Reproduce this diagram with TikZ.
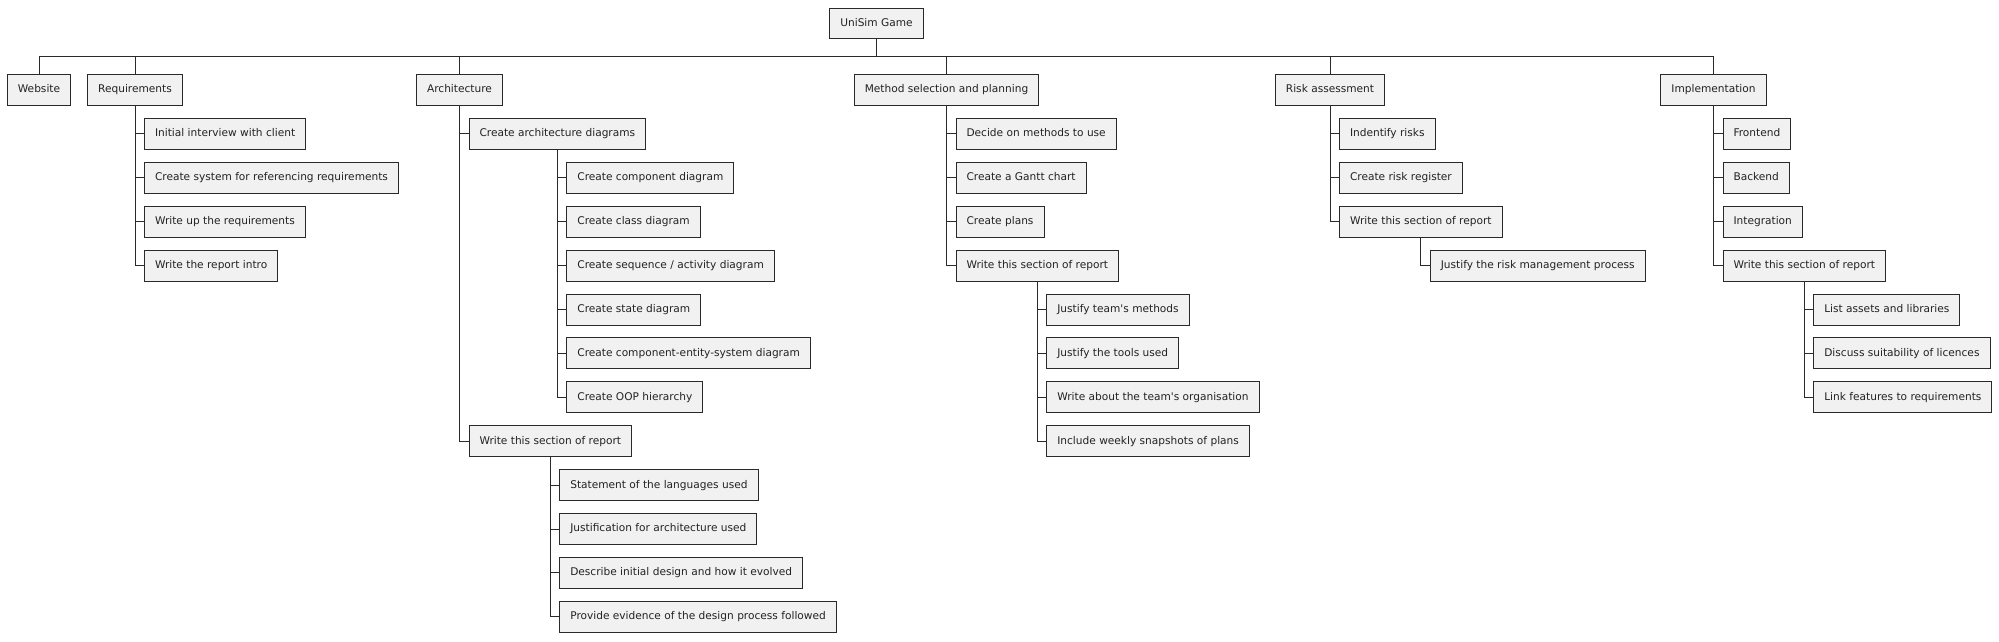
\documentclass[tikz,border=0pt]{standalone}
\usepackage{fontspec}
\setmainfont{DejaVu Sans}[Ligatures=TeXOff]
\usetikzlibrary{calc}
\definecolor{boxfill}{HTML}{F1F1F1}
\definecolor{boxline}{HTML}{2A2A2A}
\definecolor{txt}{HTML}{222222}
\tikzset{
  wbsbox/.style={draw=boxline, fill=boxfill, line width=1.0pt, inner xsep=10.5pt, inner ysep=0pt,
    minimum height=31pt, text height=8.2pt, text depth=2.3pt, text=txt,
    font=\fontsize{10.6}{12.7}\selectfont},
  conn/.style={draw=boxline, line width=1.0pt}
}
\newcommand\wbskid[4]{%
  \node[wbsbox, anchor=west] (#1) at ($(#2.center |- 0,#3)+(9,0)$) {#4};
  \draw[conn] (#2.south) |- (#1.west);
}
\begin{document}
\begin{tikzpicture}[x=1pt,y=-1pt]
\useasboundingbox[fill=white] (0,0) rectangle (1999,642);
% root
\node[wbsbox, minimum height=30pt] (root) at (876.5,24) {UniSim Game};
% level 1
\node[wbsbox] (web) at (39,90) {Website};
\node[wbsbox] (req) at (135,90) {Requirements};
\node[wbsbox] (arch) at (459.5,90) {Architecture};
\node[wbsbox] (meth) at (946.5,90) {Method selection and planning};
\node[wbsbox] (risk) at (1330,90) {Risk assessment};
\node[wbsbox] (impl) at (1713.5,90) {Implementation};
\coordinate (bar) at (0,57);
\draw[conn] (root.south) -- (root.south |- bar);
\draw[conn] (web.north) -- (web.north |- bar) -- (impl.north |- bar) -- (impl.north);
\foreach \n in {req,arch,meth,risk}{\draw[conn] (\n.north) -- (\n.north |- bar);}
% Requirements
\wbskid{r1}{req}{133.9}{Initial interview with client}
\wbskid{r2}{req}{177.8}{Create system for referencing requirements}
\wbskid{r3}{req}{221.7}{Write up the requirements}
\wbskid{r4}{req}{265.6}{Write the report intro}
% Architecture
\wbskid{a1}{arch}{133.9}{Create architecture diagrams}
\wbskid{a11}{a1}{177.8}{Create component diagram}
\wbskid{a12}{a1}{221.7}{Create class diagram}
\wbskid{a13}{a1}{265.6}{Create sequence / activity diagram}
\wbskid{a14}{a1}{309.5}{Create state diagram}
\wbskid{a15}{a1}{353.4}{Create component-entity-system diagram}
\wbskid{a16}{a1}{397.3}{Create OOP hierarchy}
\wbskid{a2}{arch}{441.2}{Write this section of report}
\wbskid{a21}{a2}{485.1}{Statement of the languages used}
\wbskid{a22}{a2}{529.0}{Justification for architecture used}
\wbskid{a23}{a2}{572.9}{Describe initial design and how it evolved}
\wbskid{a24}{a2}{616.8}{Provide evidence of the design process followed}
% Method selection
\wbskid{m1}{meth}{133.9}{Decide on methods to use}
\wbskid{m2}{meth}{177.8}{Create a Gantt chart}
\wbskid{m3}{meth}{221.7}{Create plans}
\wbskid{m4}{meth}{265.6}{Write this section of report}
\wbskid{m41}{m4}{309.5}{Justify team's methods}
\wbskid{m42}{m4}{353.4}{Justify the tools used}
\wbskid{m43}{m4}{397.3}{Write about the team's organisation}
\wbskid{m44}{m4}{441.2}{Include weekly snapshots of plans}
% Risk assessment
\wbskid{k1}{risk}{133.9}{Indentify risks}
\wbskid{k2}{risk}{177.8}{Create risk register}
\wbskid{k3}{risk}{221.7}{Write this section of report}
\wbskid{k31}{k3}{265.6}{Justify the risk management process}
% Implementation
\wbskid{i1}{impl}{133.9}{Frontend}
\wbskid{i2}{impl}{177.8}{Backend}
\wbskid{i3}{impl}{221.7}{Integration}
\wbskid{i4}{impl}{265.6}{Write this section of report}
\wbskid{i41}{i4}{309.5}{List assets and libraries}
\wbskid{i42}{i4}{353.4}{Discuss suitability of licences}
\wbskid{i43}{i4}{397.3}{Link features to requirements}
\end{tikzpicture}
\end{document}
